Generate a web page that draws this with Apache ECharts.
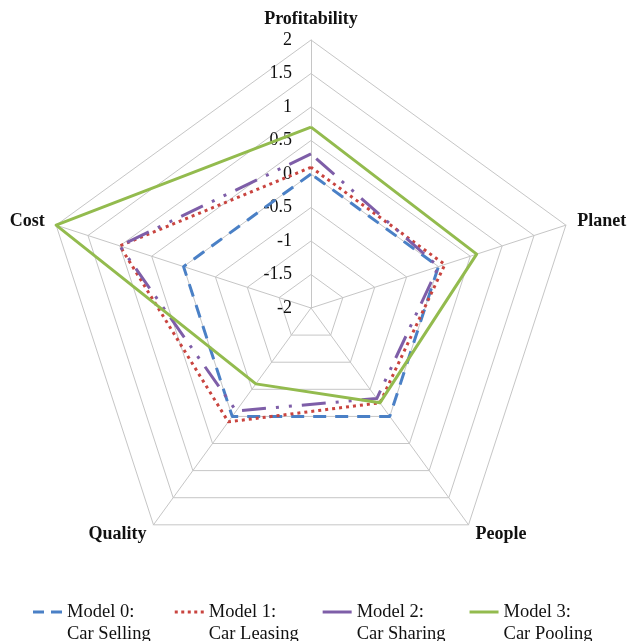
<!DOCTYPE html>
<html>
<head>
<meta charset="utf-8">
<script src="https://cdn.jsdelivr.net/npm/echarts@6/dist/echarts.min.js"></script>
<style>
  html, body { margin: 0; padding: 0; background: #fff; }
  #chart { width: 630px; height: 641px; }
</style>
</head>
<body>
<div id="chart"></div>
<script>
// Axes in drawing order, starting at the top and going counter-clockwise
const categories = ['Profitability', 'Cost', 'Quality', 'People', 'Planet'];
const axisMin = -2;
const axisMax = 2;
const axisStep = 0.5;

const modelTitles = ['Model 0:', 'Model 1:', 'Model 2:', 'Model 3:'];
const modelKinds = ['Car Selling', 'Car Leasing', 'Car Sharing', 'Car Pooling'];

// Scores per model, same order as categories
const carSelling = [0, 0, 0, 0, 0];
const carLeasing = [0.1, 1, 0.1, -0.25, 0.1];
const carSharing = [0.3, 1, -0.1, -0.33, 0];
const carPooling = [0.7, 2, -0.6, -0.25, 0.6];

const seriesValues = [carSelling, carLeasing, carSharing, carPooling];
const colors = ['#4a80c6', '#c9443f', '#7e5ea8', '#93bb4e'];
const dashes = [[13, 9], [3, 4], [24, 10, 3, 10, 3, 10], 'solid'];
const legendIcons = [
  'path://M0,0h11v3h-11z M18,0h11v3h-11z',
  'path://M0,0h3v3h-3z M6.5,0h3v3h-3z M13,0h3v3h-3z M19.5,0h3v3h-3z M26,0h3v3h-3z',
  'path://M0,0h29v3h-29z',
  'path://M0,0h29v3h-29z'
];

const serif = '"Liberation Serif", "Times New Roman", serif';
const gridColor = '#c6c6c6';

const names = modelTitles.map((t, i) => t + '\n' + modelKinds[i]);

const indicator = categories.map((name, i) => {
  const item = { name: name, min: axisMin, max: axisMax };
  if (i === 0) {
    item.axisLabel = {
      show: true,
      color: '#111',
      fontFamily: serif,
      fontSize: 18,
      margin: 19
    };
  }
  return item;
});

const chart = echarts.init(document.getElementById('chart'), null, { renderer: 'canvas' });

chart.setOption({
  animation: false,
  backgroundColor: '#fff',
  legend: {
    left: 33,
    top: 579,
    padding: 0,
    itemWidth: 29,
    itemHeight: 3,
    itemGap: 24,
    // a blank first line keeps the icon level with the model title
    formatter: name => '\n' + name,
    textStyle: {
      fontFamily: serif,
      fontSize: 18.5,
      color: '#111',
      lineHeight: 22
    },
    data: names.map((n, i) => ({
      name: n,
      icon: legendIcons[i],
      itemStyle: { color: colors[i], borderWidth: 0 }
    }))
  },
  radar: {
    center: [311, 308],
    radius: 268,
    startAngle: 90,
    shape: 'polygon',
    splitNumber: (axisMax - axisMin) / axisStep,
    nameGap: 12,
    axisName: {
      color: '#111',
      fontFamily: serif,
      fontSize: 18,
      fontWeight: 'bold'
    },
    axisLabel: { show: false },
    axisTick: { show: false },
    axisLine: { lineStyle: { color: gridColor, width: 1 } },
    splitLine: { lineStyle: { color: gridColor, width: 1 } },
    splitArea: { show: false },
    indicator: indicator
  },
  series: seriesValues.map((vals, i) => ({
    type: 'radar',
    name: names[i],
    symbol: 'none',
    z: 2 + i,
    color: colors[i],
    lineStyle: { color: colors[i], width: 3, type: dashes[i] },
    data: [{ value: vals, name: names[i] }]
  }))
});
</script>
</body>
</html>
